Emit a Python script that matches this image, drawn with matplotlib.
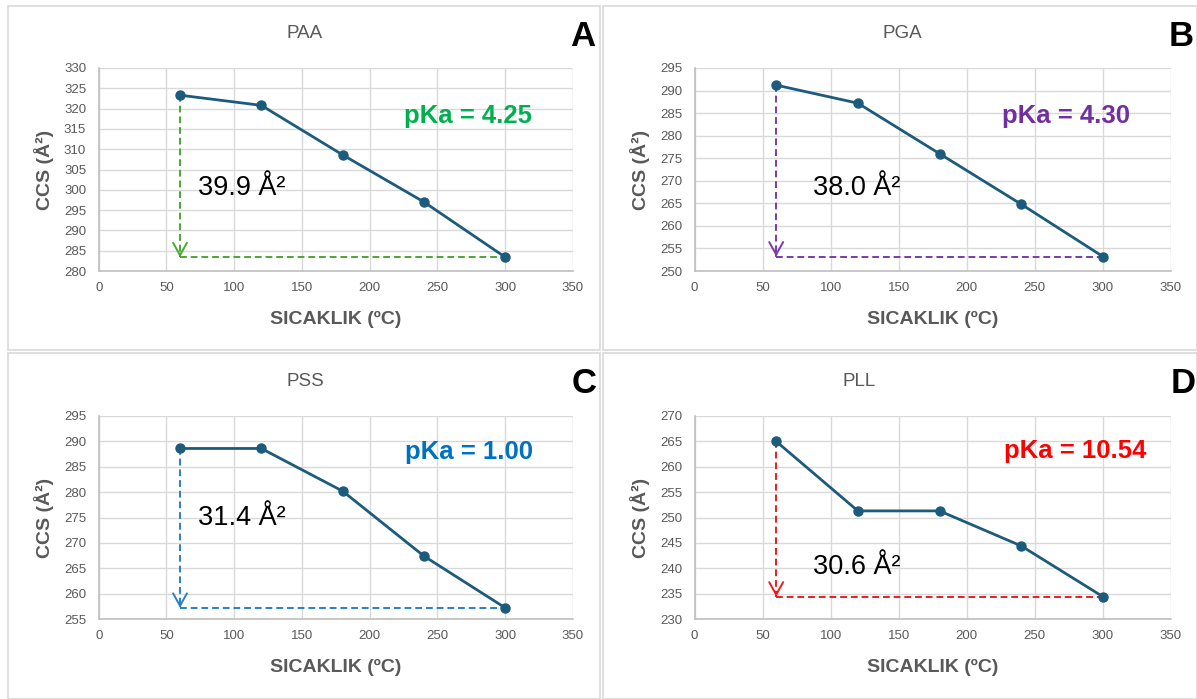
import matplotlib
matplotlib.use("Agg")
import matplotlib.pyplot as plt
from matplotlib.patches import Rectangle

# ----------------- Data --------------------------------------------- #
temps = [60, 120, 180, 240, 300]

names = ["PAA", "PGA", "PSS", "PLL"]
letters = ["A", "B", "C", "D"]
ccs_paa = [323.3, 320.8, 308.6, 297.0, 283.4]
ccs_pga = [291.2, 287.2, 276.0, 264.8, 253.2]
ccs_pss = [288.6, 288.6, 280.2, 267.4, 257.2]
ccs_pll = [265.0, 251.3, 251.3, 244.4, 234.4]
series = [ccs_paa, ccs_pga, ccs_pss, ccs_pll]

pka_labels = ["pKa = 4.25", "pKa = 4.30", "pKa = 1.00", "pKa = 10.54"]
delta_labels = ["39.9 Å²", "38.0 Å²", "31.4 Å²", "30.6 Å²"]

y_limits = [(280, 330), (250, 295), (255, 295), (230, 270)]
x_ticks = [0, 50, 100, 150, 200, 250, 300, 350]

# ----------------- Style -------------------------------------------- #
W, H = 1197, 699
plt.rcParams["font.family"] = ["Liberation Sans", "DejaVu Sans"]

LINE_COLOR = "#1c5b7c"
GRAY = "#595959"
GRID = "#d9d9d9"
pka_colors = ["#00b050", "#7030a0", "#0070c0", "#ff0000"]
dash_colors = ["#4aa832", "#7a3aa8", "#2a7fc9", "#ee1c1c"]

# pixel boxes: panel frame and plot area (left, top, right, bottom)
panels = [(8, 6, 600, 350), (603, 6, 1197, 350),
          (8, 353, 600, 699), (603, 353, 1197, 699)]
plot_boxes = [(98.7, 68, 573, 271), (694.5, 68, 1171, 271),
              (98.7, 416, 573, 619), (694.5, 416, 1171, 619)]
title_pos = [(305, 33), (902, 33), (305, 381), (859, 381)]
letter_pos = [(583, 36), (1181, 36), (584, 383), (1183, 383)]
pka_pos = [(468, 116), (1066, 116), (469, 452), (1075, 451)]
delta_pos = [(198, 188), (813, 188), (198, 518), (813, 567)]


def fx(px):
    return px / W


def fy(py):
    return 1 - py / H


fig = plt.figure(figsize=(W / 100, H / 100), dpi=100)

for i in range(4):
    # panel frame
    l, t, r, b = panels[i]
    fig.add_artist(Rectangle((fx(l), fy(b)), (r - l) / W, (b - t) / H,
                             transform=fig.transFigure, fill=False,
                             edgecolor="#d9d9d9", lw=1.2))

    l, t, r, b = plot_boxes[i]
    ax = fig.add_axes([fx(l), fy(b), (r - l) / W, (b - t) / H])
    ys = series[i]

    ax.set_xlim(0, 350)
    ax.set_ylim(*y_limits[i])
    ax.set_xticks(x_ticks)
    ax.set_yticks(range(y_limits[i][0], y_limits[i][1] + 1, 5))
    ax.grid(True, color=GRID, lw=1)
    ax.set_axisbelow(True)
    for s in ["top", "right"]:
        ax.spines[s].set_visible(False)
    for s in ["left", "bottom"]:
        ax.spines[s].set_color("#bfbfbf")
        ax.spines[s].set_linewidth(1.2)
    ax.tick_params(length=0, labelsize=9.5, labelcolor=GRAY)
    ax.tick_params(axis="x", pad=8)
    ax.tick_params(axis="y", pad=9)

    # dashed guides
    top, bot = ys[0], ys[-1]
    ax.plot([temps[0], temps[0]], [top, bot], color=dash_colors[i],
            lw=1.4, dashes=(3.5, 2), zorder=3)
    ax.plot([temps[0], temps[-1]], [bot, bot], color=dash_colors[i],
            lw=1.4, dashes=(3.5, 2), zorder=3)
    ax.annotate("", xy=(temps[0], bot), xytext=(0, 1.5),
                textcoords="offset points",
                arrowprops=dict(arrowstyle="->,head_length=0.45,head_width=0.25",
                                mutation_scale=20, color=dash_colors[i],
                                lw=1.4, shrinkA=0, shrinkB=0), zorder=3)

    ax.plot(temps, ys, color=LINE_COLOR, lw=2, marker="o", markersize=6.5,
            zorder=4, clip_on=False)

    # texts
    tx, ty = title_pos[i]
    fig.text(fx(tx), fy(ty), names[i], ha="center", va="center",
             fontsize=13.5, color=GRAY)
    lx, ly = letter_pos[i]
    fig.text(fx(lx), fy(ly), letters[i], ha="center", va="center",
             fontsize=25, fontweight="bold", color="black")
    px_, py_ = pka_pos[i]
    fig.text(fx(px_), fy(py_), pka_labels[i], ha="center", va="center",
             fontsize=18.5, fontweight="bold", color=pka_colors[i])
    dx, dy = delta_pos[i]
    fig.text(fx(dx), fy(dy), delta_labels[i], ha="left", va="center",
             fontsize=19.5, color="black")

    cx = (l + r) / 2
    cy = (t + b) / 2
    fig.text(fx(cx), fy(b + 48), "SICAKLIK (ºC)", ha="center", va="center",
             fontsize=14, fontweight="bold", color=GRAY)
    fig.text(fx(l - 55), fy(cy), "CCS (Å²)", ha="center", va="center",
             rotation=90, fontsize=14, fontweight="bold", color=GRAY)

fig.savefig("out.png", dpi=100)
